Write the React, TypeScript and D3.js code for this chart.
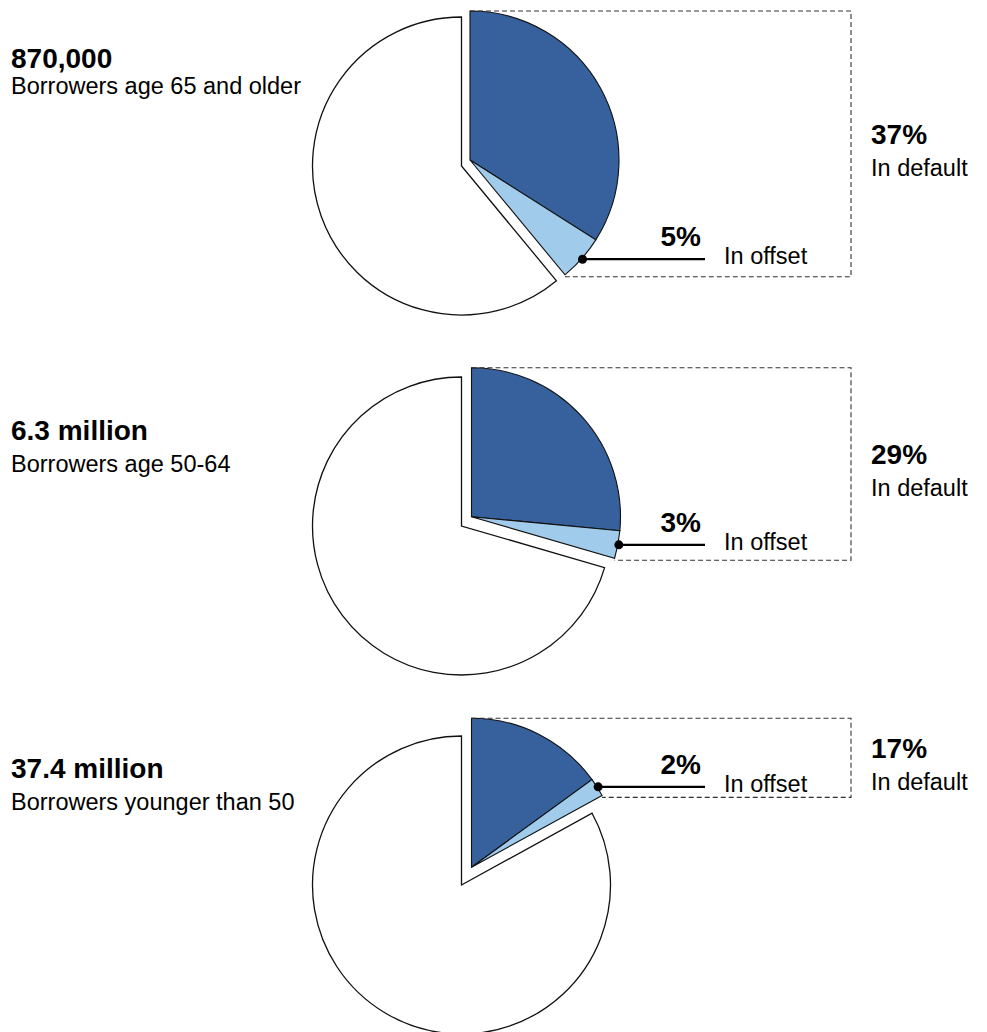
import React from 'react';
import { arc, pie } from 'd3';

// one entry per age group, top to bottom
const totals = ['870,000', '6.3 million', '37.4 million'];
const groups = ['Borrowers age 65 and older', 'Borrowers age 50-64', 'Borrowers younger than 50'];
const inDefault = [37, 29, 17];           // label values
const inOffset = [5, 3, 2];
const defaultSlice = [34, 26.5, 15];      // dark slice as drawn (default, not offset)

const W = 987;
const H = 1032;
const R = 149;
const CX = 461.5;
const CY = [166, 526, 885];
const EXPLODE = [[8.5, -6], [10, -9.3], [10, -17.8]];
const TITLE_Y = [[67.5, 94], [440, 471.5], [777.5, 810]];

const DARK = '#36619d';
const LIGHT = '#a0cbeb';
const FONT = '"Liberation Sans", Arial, sans-serif';

const pieGen = pie<number>().sort(null).value((d) => d);
const arcGen = arc<any>().innerRadius(0).outerRadius(R);

const pt = (a: number, r: number): [number, number] => [Math.sin(a) * r, -Math.cos(a) * r];

const PieGroup: React.FC<{ i: number }> = ({ i }) => {
  const cy = CY[i];
  const [dx, dy] = EXPLODE[i];
  const slices = pieGen([defaultSlice[i], inOffset[i], 100 - defaultSlice[i] - inOffset[i]]);
  const [dark, light, rest] = slices;

  const ex = CX + dx;
  const ey = cy + dy;
  const tip = pt(light.endAngle, R);
  const tipX = ex + tip[0];
  const tipY = ey + tip[1];
  const boxTop = ey - R;
  const boxBottom = tipY + 2;
  const boxRight = 851;
  const boxMid = (boxTop + boxBottom) / 2;

  const mid = (light.startAngle + light.endAngle) / 2;
  const dot = pt(mid, R + 1);
  const dotX = ex + dot[0];
  const dotY = ey + dot[1];

  return (
    <g>
      <path d={arcGen(rest) || ''} transform={`translate(${CX},${cy})`}
        fill="#fff" stroke="#111" strokeWidth={1.3} />
      <g transform={`translate(${ex},${ey})`}>
        <path d={arcGen(dark) || ''} fill={DARK} stroke="#111" strokeWidth={1.1} />
        <path d={arcGen(light) || ''} fill={LIGHT} stroke="#111" strokeWidth={1.1} />
      </g>
      <path d={`M${ex},${boxTop}H${boxRight}V${boxBottom}H${tipX}`}
        fill="none" stroke="#333" strokeWidth={1.1} strokeDasharray="5,3" />

      <line x1={dotX} y1={dotY} x2={705} y2={dotY} stroke="#000" strokeWidth={2.2} />
      <circle cx={dotX} cy={dotY} r={4.5} fill="#000" />
      <text x={701} y={dotY - 13} textAnchor="end" fontWeight="bold" fontSize={28}>{inOffset[i]}%</text>
      <text x={724} y={dotY + 5} fontSize={23.5}>In offset</text>

      <text x={871} y={boxMid} fontWeight="bold" fontSize={28}>{inDefault[i]}%</text>
      <text x={871} y={boxMid + 32} fontSize={23.5}>In default</text>

      <text x={11} y={TITLE_Y[i][0]} fontWeight="bold" fontSize={28}>{totals[i]}</text>
      <text x={11} y={TITLE_Y[i][1]} fontSize={23.5}>{groups[i]}</text>
    </g>
  );
};

export default function App() {
  return (
    <div style={{ position: 'absolute', left: 0, top: 0 }}>
      <svg width={W} height={H} style={{ display: 'block', background: '#fff', fontFamily: FONT }}>
        <rect width={W} height={H} fill="#fff" />
        {totals.map((_, i) => <PieGroup key={i} i={i} />)}
      </svg>
    </div>
  );
}
